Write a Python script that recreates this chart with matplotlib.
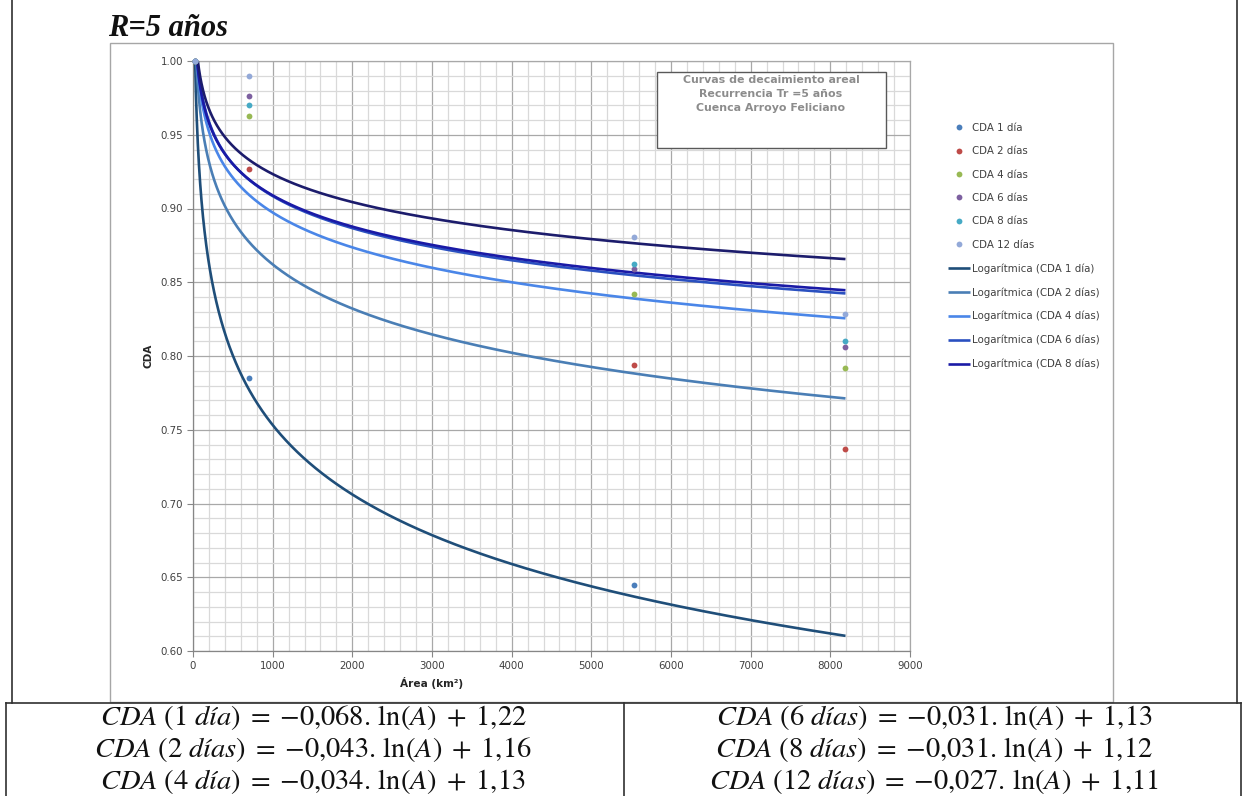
import numpy as np
import matplotlib
matplotlib.use("Agg")
import matplotlib.pyplot as plt
from matplotlib.lines import Line2D
from matplotlib.patches import Rectangle
from matplotlib.ticker import MultipleLocator, FormatStrFormatter

# Área de la cuenca (km²) y coeficientes de decaimiento areal (CDA) por duración
areas = [25, 707, 5536, 8190]
cda_1 = [1.000, 0.785, 0.645, 0.598]
cda_2 = [1.000, 0.927, 0.794, 0.737]
cda_4 = [1.000, 0.963, 0.842, 0.7916]
cda_6 = [1.000, 0.976, 0.8588, 0.8059]
cda_8 = [1.000, 0.970, 0.8624, 0.810]
cda_12 = [1.000, 0.990, 0.881, 0.8285]

series_values = [cda_1, cda_2, cda_4, cda_6, cda_8, cda_12]
legend_names = ["1 día", "2 días", "4 días", "6 días", "8 días", "12 días"]
equation_names = ["1 día", "2 días", "4 día", "6 días", "8 días", "12 días"]
x_ticks = [0, 1000, 2000, 3000, 4000, 5000, 6000, 7000, 8000, 9000]
y_ticks = [0.60, 0.65, 0.70, 0.75, 0.80, 0.85, 0.90, 0.95, 1.00]

point_colors = ["#4a7ebb", "#be4b48", "#98b954", "#7d60a0", "#46aac5", "#93a9d8"]
trend_colors = ["#1f4e79", "#4a7eb5", "#4a86e8", "#2a50c0", "#1a1aa6", "#1c1c6c"]

W, H = 1245, 796


def fx(px):
    return px / W


def fy(py):
    return 1 - py / H


plt.rcParams["mathtext.fontset"] = "stix"
fig = plt.figure(figsize=(W / 100, H / 100), dpi=100)

# Marco de la imagen del gráfico y bordes de la tabla del documento
fig.add_artist(Rectangle((fx(110), fy(702)), fx(1113) - fx(110), fy(43) - fy(702),
                         transform=fig.transFigure, fill=False, ec="#a6a6a6", lw=1.0))
for (x0, y0, x1, y1) in [(12, 0, 12, 703), (1237, 0, 1237, 703), (6, 703, 1241, 703),
                         (6, 703, 6, 796), (1241, 703, 1241, 796), (624, 703, 624, 796)]:
    fig.add_artist(Line2D([fx(x0), fx(x1)], [fy(y0), fy(y1)], transform=fig.transFigure,
                          color="#303030", lw=1.2))

fig.text(fx(108), fy(36), "R=5 años", family="Liberation Serif", weight="bold",
         style="italic", size=22, ha="left", va="baseline", color="#111111")

ax = fig.add_axes([fx(193), fy(651), fx(910) - fx(193), fy(61) - fy(651)])
ax.set_xlim(0, 9000)
ax.set_ylim(0.60, 1.00)
ax.set_xticks(x_ticks)
ax.set_yticks(y_ticks)
ax.xaxis.set_minor_locator(MultipleLocator(200))
ax.yaxis.set_minor_locator(MultipleLocator(0.01))
ax.yaxis.set_major_formatter(FormatStrFormatter("%.2f"))
ax.set_axisbelow(True)
ax.grid(which="minor", color="#d9d9d9", lw=0.9)
ax.grid(which="major", color="#a8a8a8", lw=0.9)
ax.tick_params(which="major", length=4, width=0.8, color="#868686", labelsize=7.4,
               labelcolor="#404040", pad=3)
ax.tick_params(which="minor", length=0)
for side in ["left", "bottom"]:
    ax.spines[side].set_color("#868686")
for side in ["top", "right"]:
    ax.spines[side].set_color("#a8a8a8")
for s in ax.spines.values():
    s.set_linewidth(0.9)

fig.text(fx(148), fy(356), "CDA", rotation=90, weight="bold", size=7.6,
         ha="center", va="center", color="#262626")
fig.text(fx(432), fy(683), "Área (km²)", weight="bold", size=7.6,
         ha="center", va="center", color="#262626")

x_arr = np.array(areas, dtype=float)
x_curve = np.linspace(x_arr[0], x_arr[-1], 3000)
ylo, yhi = ax.get_ylim()

point_handles = []
trend_handles = []
fits = []
for vals, name, pc, tc in zip(series_values, legend_names, point_colors, trend_colors):
    y_arr = np.array(vals)
    # Línea de tendencia logarítmica: CDA = a·ln(A) + b
    a, b = np.polyfit(np.log(x_arr), y_arr, 1)
    fits.append((a, b))
    line, = ax.plot(x_curve, a * np.log(x_curve) + b, color=tc, lw=1.9, zorder=3,
                    solid_capstyle="butt")
    trend_handles.append((line, f"Logarítmica (CDA {name})"))
    inside = (y_arr >= ylo) & (y_arr <= yhi)
    pts, = ax.plot(x_arr[inside], y_arr[inside], "o", ms=4.2, color=pc,
                   mec="none", zorder=4, clip_on=False)
    point_handles.append((pts, f"CDA {name}"))

# La leyenda muestra los puntos y las tendencias hasta 8 días
handles = [h for h, _ in point_handles] + [h for h, _ in trend_handles[:5]]
labels = [l for _, l in point_handles] + [l for _, l in trend_handles[:5]]
leg = fig.legend(handles, labels, loc="upper left", bbox_to_anchor=(fx(948), fy(123)),
                 frameon=False, fontsize=7.4, handlelength=2.1, handletextpad=0.25,
                 labelspacing=1.3, borderpad=0, borderaxespad=0, numpoints=1)
for t in leg.get_texts():
    t.set_color("#404040")

# Recuadro con el título del gráfico
fig.add_artist(Rectangle((fx(657), fy(148)), fx(886) - fx(657), fy(72) - fy(148),
                         transform=fig.transFigure, fc="white", ec="#595959", lw=1.0))
for i, line_txt in enumerate(["Curvas de decaimiento areal", "Recurrencia Tr =5 años",
                              "Cuenca Arroyo Feliciano"]):
    fig.text(fx(771), fy(80 + 14 * i), line_txt, weight="bold", size=7.9, color="#8c8c8c",
             ha="center", va="center")


def fmt(v, nd):
    return f"{abs(v):.{nd}f}".replace(".", "{,}")


def equation(name, a, b):
    num, word = name.split(" ")
    sign = "{-}" if a < 0 else ""
    return (r"$CDA\ (" + num + r"\ \mathit{" + word + r"})\;=\;" + sign + fmt(a, 3)
            + r".\,\ln(A)\;+\;" + fmt(b, 2) + "$")


eq_x = [313, 934]
eq_y = [718, 750, 782]
for k, (name, (a, b)) in enumerate(zip(equation_names, fits)):
    col, row = divmod(k, 3)
    fig.text(fx(eq_x[col]), fy(eq_y[row]), equation(name, a, b), size=20.5,
             ha="center", va="center", color="#111111")

fig.savefig("out.png", dpi=100)
